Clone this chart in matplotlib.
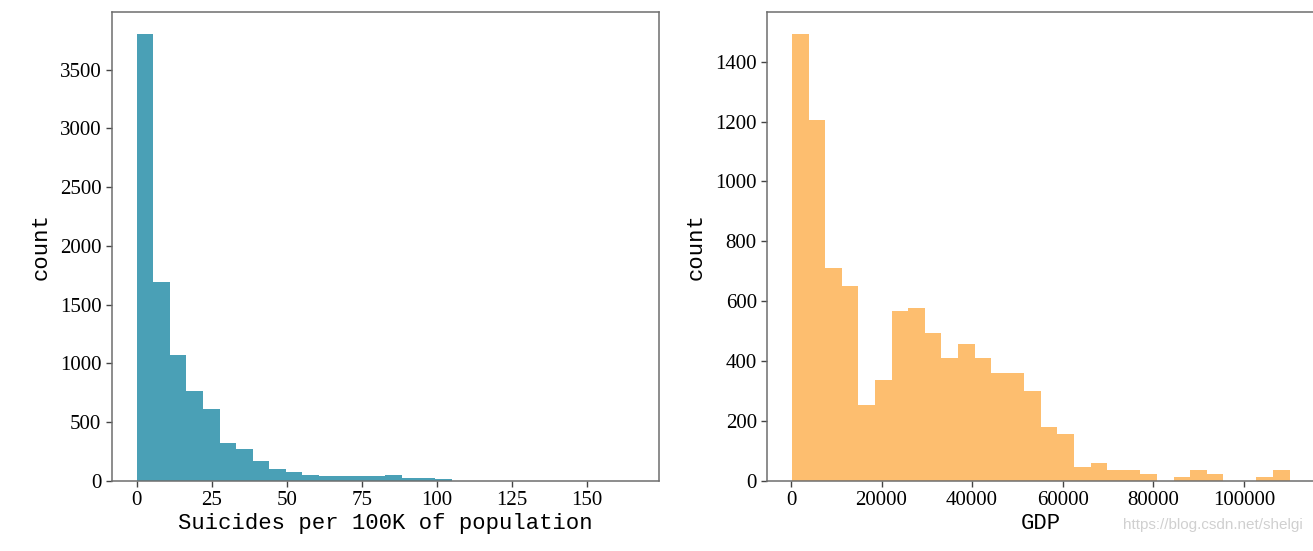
import numpy as np
import matplotlib
matplotlib.use("Agg")
import matplotlib.pyplot as plt

# ---- data ----
suicide_range = (0.0, 165.8)
suicide_counts = [3800, 1691, 1076, 767, 609, 327, 270, 170, 106, 77,
                  51, 40, 40, 40, 40, 51, 26, 26, 14, 4,
                  2, 2, 1, 1, 1, 1, 0, 0, 0, 1]

gdp_range = (251.0, 110111.0)
gdp_counts = [1491, 1204, 711, 650, 253, 338, 567, 578, 494, 409,
              457, 409, 361, 361, 301, 181, 157, 48, 60, 37,
              37, 23, 0, 13, 37, 23, 0, 0, 13, 37]

left_color = "#4aa0b6"
right_color = "#fdbe6f"

plt.rcParams['font.family'] = ['Liberation Serif', 'DejaVu Serif']

fig = plt.figure(figsize=(13.13, 5.51), dpi=100)
W, H = 1313, 551
ax1 = fig.add_axes([111.8 / W, (H - 481) / H, (658.9 - 111.8) / W, (481 - 12) / H])
ax2 = fig.add_axes([767.2 / W, (H - 481) / H, (1314.5 - 767.2) / W, (481 - 12) / H])

def draw(ax, rng, counts, color, xlabel):
    edges = np.linspace(rng[0], rng[1], len(counts) + 1)
    ax.hist(edges[:-1], bins=edges, weights=counts, color=color)
    ax.set_ylabel("count", family="Liberation Mono", fontsize=16, labelpad=6)
    ax.set_xlabel(xlabel, family="Liberation Mono", fontsize=16, labelpad=2)
    ax.tick_params(labelsize=15, length=4, width=1, color="#444444")
    for s in ax.spines.values():
        s.set_color("#6e6e6e")
        s.set_linewidth(1.1)

draw(ax1, suicide_range, suicide_counts, left_color, "Suicides per 100K of population")
draw(ax2, gdp_range, gdp_counts, right_color, "GDP")

fig.text(0.992, 0.035, "https://blog.csdn.net/shelgi", ha="right", va="bottom",
         fontsize=11, color="#d0d0d0", family="Liberation Sans")

fig.savefig("out.png", dpi=100)
